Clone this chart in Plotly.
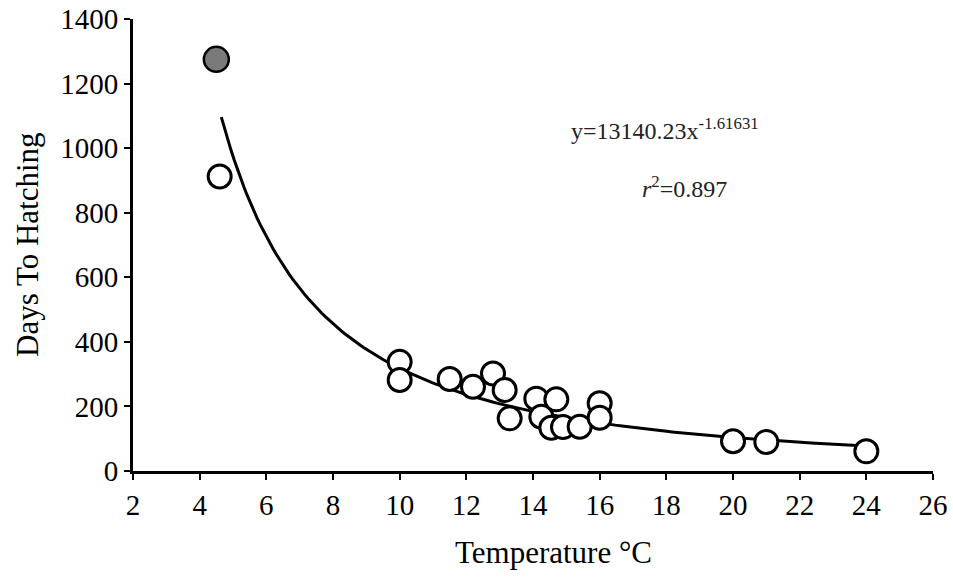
import plotly.graph_objects as go

# Observed data (temperature °C, days to hatching)
temps_open = [4.6, 10.0, 10.0, 11.5, 12.2, 12.8, 13.15, 13.3, 14.1, 14.25, 14.55, 14.7,
              14.9, 15.4, 16.0, 16.0, 20.0, 21.0, 24.0]
days_open = [912, 338, 282, 285, 261, 302, 251, 163, 224, 168, 134, 222,
             136, 137, 210, 165, 92, 90, 61]
temps_filled = [4.5]
days_filled = [1275]

# Power-law fit shown on the chart: y = a * x^b
fit_a = 13140.23
fit_b = -1.61631
fit_x_start = 4.65
fit_x_end = 24.0
n_fit = 200
fit_x = [fit_x_start + (fit_x_end - fit_x_start) * i / (n_fit - 1) for i in range(n_fit)]
fit_y = [fit_a * x ** fit_b for x in fit_x]

x_ticks = list(range(2, 27, 2))
y_ticks = list(range(0, 1401, 200))

serif = "Liberation Serif, Times New Roman, serif"

fig = go.Figure()
fig.add_trace(go.Scatter(x=fit_x, y=fit_y, mode="lines",
                         line=dict(color="black", width=3), hoverinfo="skip"))
fig.add_trace(go.Scatter(x=temps_open, y=days_open, mode="markers",
                         marker=dict(size=23, color="white",
                                     line=dict(color="black", width=3)),
                         cliponaxis=False))
fig.add_trace(go.Scatter(x=temps_filled, y=days_filled, mode="markers",
                         marker=dict(size=25, color="#7a7a7a",
                                     line=dict(color="black", width=2.5)),
                         cliponaxis=False))

fig.add_annotation(x=17.95, y=1058, xref="x", yref="y", showarrow=False,
                   text="y=13140.23x<sup>-1.61631</sup>",
                   font=dict(family=serif, size=24, color="#222"))
fig.add_annotation(x=18.55, y=880, xref="x", yref="y", showarrow=False,
                   text="<i>r</i><sup>2</sup>=0.897",
                   font=dict(family=serif, size=24, color="#222"))

# Axis titles
fig.add_annotation(x=0.525, y=-0.181, xref="paper", yref="paper", showarrow=False,
                   xanchor="center", yanchor="middle", text="Temperature °C",
                   font=dict(family=serif, size=31, color="black"))
fig.add_annotation(x=-0.1325, y=0.5, xref="paper", yref="paper", showarrow=False,
                   xanchor="center", yanchor="middle", textangle=-90,
                   text="Days To Hatching",
                   font=dict(family=serif, size=31, color="black"))

fig.update_layout(
    width=953, height=578,
    margin=dict(l=133, r=20, t=19, b=107),
    paper_bgcolor="white", plot_bgcolor="white",
    showlegend=False,
    font=dict(family=serif, color="black"),
)
fig.update_xaxes(range=[2, 26], tickvals=x_ticks, ticktext=[str(v) for v in x_ticks],
                 showgrid=False, zeroline=False, showline=True, linecolor="black",
                 linewidth=3, ticks="outside", ticklen=6, tickwidth=2, tickcolor="black",
                 tickfont=dict(family=serif, size=29), automargin=False)
fig.update_yaxes(range=[0, 1400], tickvals=y_ticks, ticktext=[str(v) for v in y_ticks],
                 showgrid=False, zeroline=False, showline=True, linecolor="black",
                 linewidth=3, ticks="outside", ticklen=6, tickwidth=2, tickcolor="black",
                 tickfont=dict(family=serif, size=29), automargin=False)

fig.write_html("out.html")
